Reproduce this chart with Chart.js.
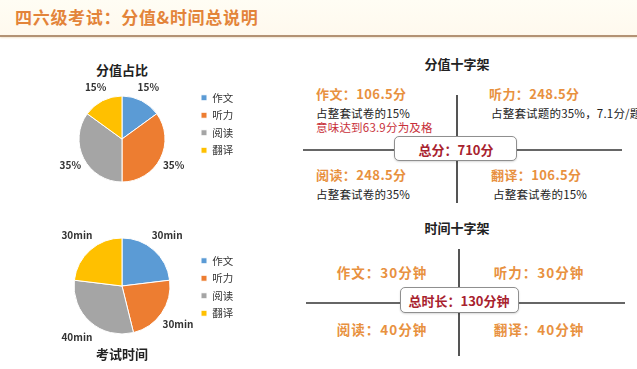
<!DOCTYPE html>
<html>
<head>
<meta charset="utf-8">
<script src="https://cdn.jsdelivr.net/npm/chart.js@4.4.1/dist/chart.umd.min.js"></script>
<style>
  body { margin: 0; }
  #page { position: relative; width: 637px; height: 369px; overflow: hidden; background: #fff;
          font-family: "Noto Sans CJK SC", "Noto Sans", sans-serif; }
  #head { position: absolute; left: 0; top: 0; width: 637px; height: 35px;
          background: linear-gradient(#fffdf4, #fff9ee); }
  #head .title { position: absolute; left: 15px; top: 16px; transform: translateY(-50%);
          font-size: 17px; letter-spacing: 0.7px; font-weight: bold; color: #e3843a; white-space: nowrap; }
  #rule { position: absolute; left: 0; top: 35px; width: 637px; height: 2px; background: #b39274;
          box-shadow: 0 1px 2px #f1e2cc; }
  .t { position: absolute; white-space: nowrap; transform: translateY(-50%); }
  .c { position: absolute; white-space: nowrap; transform: translate(-50%, -50%); }
  .h { font-size: 13px; font-weight: bold; color: #222; }
  .q { font-size: 13px; letter-spacing: 0.4px; font-weight: bold; color: #e8913f; }
  .n { font-size: 11.5px; letter-spacing: 0.2px; color: #222; }
  .r { font-size: 11.5px; letter-spacing: 0.2px; color: #c8303a; }
  .vl { position: absolute; width: 1.5px; background: #555; }
  .hl { position: absolute; height: 1.5px; background: #666; }
  .box { position: absolute; border: 1.5px solid #8f8f8f; border-radius: 5px; background: #fff;
         box-shadow: 0 1px 2px rgba(0,0,0,0.15); }
  .tot { font-size: 13px; font-weight: bold; color: #a8222e; }
  .tq { font-size: 13.5px; letter-spacing: 1px; }
  .cv { position: absolute; }
</style>
</head>
<body>
<div id="page">
  <div id="head"><div class="title">四六级考试：分值&amp;时间总说明</div></div>
  <div id="rule"></div>

  <div class="c h" style="left:122px;top:69px">分值占比</div>
  <div class="cv" style="left:40px;top:75px"><canvas id="scorePie" width="250" height="130"></canvas></div>

  <div class="cv" style="left:40px;top:225px"><canvas id="timePie" width="250" height="125"></canvas></div>
  <div class="c h" style="left:122px;top:353px">考试时间</div>

  <div id="right"></div>
</div>

<script>
// data
const categories = ['作文', '听力', '阅读', '翻译'];
const scorePct = [15, 35, 35, 15];
const examMinutes = [30, 30, 40, 30];
const scorePoints = [106.5, 248.5, 248.5, 106.5];
const totalScore = 710;
const crossMinutes = [30, 30, 40, 40];   // as written in the time cross
const totalMinutes = 130;
const scoreNotes = [
  ['占整套试卷的15%', '意味达到63.9分为及格'],
  ['占整套试题的35%，7.1分/题'],
  ['占整套试卷的35%'],
  ['占整套试卷的15%']
];

const pieColors = ['#5b9bd5', '#ed7d31', '#a5a5a5', '#ffc000'];
const fontFamily = '"Noto Sans CJK SC", "Noto Sans", sans-serif';

// labels outside each slice
const outLabels = {
  id: 'outLabels',
  afterDatasetsDraw(chart, args, opts) {
    const ctx = chart.ctx;
    const meta = chart.getDatasetMeta(0);
    ctx.save();
    ctx.font = 'bold 10px ' + fontFamily;
    ctx.fillStyle = '#333';
    ctx.textAlign = 'center';
    ctx.textBaseline = 'middle';
    meta.data.forEach((arc, i) => {
      const mid = (arc.startAngle + arc.endAngle) / 2;
      const r = arc.outerRadius + opts.offset;
      ctx.fillText(opts.labels[i], arc.x + Math.cos(mid) * r, arc.y + Math.sin(mid) * r);
    });
    ctx.restore();
  }
};

// fixed legend width + small vertical shift
const legendBox = {
  id: 'legendBox',
  beforeUpdate(chart, args, opts) {
    const lg = chart.legend;
    if (lg && !lg._fixed) {
      const fit = lg.fit;
      lg.fit = function () { fit.call(this); this.width = opts.width; };
      lg._fixed = true;
    }
  },
  afterLayout(chart, args, opts) {
    chart.legend.top += opts.dy;
    chart.legend.bottom += opts.dy;
  }
};

function makePie(id, values, labels, radius, padding, dy) {
  return new Chart(document.getElementById(id), {
    type: 'pie',
    data: {
      labels: categories,
      datasets: [{
        data: values,
        backgroundColor: pieColors,
        borderColor: '#fff',
        borderWidth: 1
      }]
    },
    options: {
      responsive: false,
      animation: false,
      radius: radius,
      layout: { padding: padding },
      plugins: {
        tooltip: { enabled: false },
        legend: {
          position: 'right',
          align: 'center',
          labels: {
            boxWidth: 6, boxHeight: 6, padding: 7,
            color: '#333',
            font: { size: 10.5, family: fontFamily }
          }
        },
        outLabels: { labels: labels, offset: radius > 45 ? 20 : 15 },
        legendBox: { width: 96, dy: dy }
      }
    },
    plugins: [outLabels, legendBox]
  });
}

makePie('scorePie', scorePct, scorePct.map(v => v + '%'), 43,
  { left: 10, right: 0, top: 21, bottom: 23 }, -15);
makePie('timePie', examMinutes, examMinutes.map(v => v + 'min'), 48,
  { left: 10, right: 0, top: 13, bottom: 16 }, 1);

// the two crosses on the right
const right = document.getElementById('right');
function add(cls, text, style) {
  const d = document.createElement('div');
  d.className = cls;
  d.textContent = text;
  d.setAttribute('style', style);
  right.appendChild(d);
}

add('c h', '分值十字架', 'left:457px;top:63px');
add('vl', '', 'left:456px;top:95px;height:108px');
add('hl', '', 'left:303px;top:149px;width:319px');
add('box', '', 'left:394px;top:136px;width:121px;height:23px');
add('c tot', '总分：' + totalScore + '分', 'left:456px;top:149px');

const scoreX = [316, 489, 316, 491];
const scoreY = [93, 93, 174, 174];
categories.forEach((c, i) => {
  add('t q', c + '：' + scorePoints[i] + '分', `left:${scoreX[i]}px;top:${scoreY[i]}px`);
  scoreNotes[i].forEach((note, j) => {
    add(j === 0 ? 't n' : 't r', note,
      `left:${scoreX[i] + (i % 2 ? 2 : 0)}px;top:${scoreY[i] + 20 + j * 14}px`);
  });
});

add('c h', '时间十字架', 'left:457px;top:227px');
add('vl', '', 'left:458px;top:249px;height:107px');
add('hl', '', 'left:306px;top:302px;width:319px');
add('box', '', 'left:400px;top:287px;width:117px;height:24px');
add('c tot', '总时长：' + totalMinutes + '分钟', 'left:459px;top:300px');

const timeX = [382, 539, 382, 539];
const timeY = [272, 272, 329, 329];
categories.forEach((c, i) => {
  add('c q tq', c + '：' + crossMinutes[i] + '分钟', `left:${timeX[i]}px;top:${timeY[i]}px`);
});
</script>
</body>
</html>
